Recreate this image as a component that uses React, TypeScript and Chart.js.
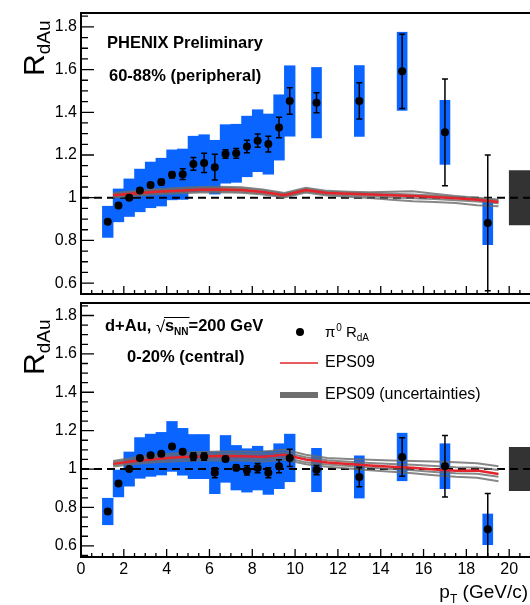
import React, { useEffect, useRef } from 'react';
import { Chart, registerables } from 'chart.js';
Chart.register(...registerables);

// ---------- data ----------
const ptBins = [1.25, 1.75, 2.25, 2.75, 3.25, 3.75, 4.25, 4.75, 5.25, 5.75, 6.25, 6.75, 7.25, 7.75, 8.25, 8.75, 9.25, 9.75, 11, 13, 15, 17, 19];

const periphR = [0.887, 0.964, 1.0, 1.034, 1.06, 1.073, 1.107, 1.11, 1.158, 1.163, 1.143, 1.205, 1.208, 1.24, 1.267, 1.251, 1.329, 1.453, 1.445, 1.453, 1.592, 1.306, 0.882];
const periphStat = [0.01, 0.01, 0.01, 0.01, 0.01, 0.012, 0.015, 0.025, 0.03, 0.045, 0.06, 0.02, 0.023, 0.029, 0.031, 0.037, 0.048, 0.062, 0.047, 0.085, 0.174, 0.25, 0.318];
const periphSys = [0.073, 0.077, 0.088, 0.1, 0.107, 0.112, 0.117, 0.118, 0.13, 0.132, 0.126, 0.137, 0.136, 0.142, 0.145, 0.141, 0.153, 0.165, 0.165, 0.166, 0.183, 0.15, 0.102];

const centralR = [0.779, 0.925, 1.0, 1.058, 1.072, 1.08, 1.118, 1.09, 1.065, 1.065, 0.981, 1.053, 1.007, 0.993, 1.005, 0.981, 1.015, 1.058, 0.995, 0.959, 1.063, 1.015, 0.686];
const centralStat = [0.01, 0.01, 0.01, 0.01, 0.01, 0.01, 0.012, 0.012, 0.02, 0.019, 0.026, 0.012, 0.015, 0.024, 0.024, 0.026, 0.034, 0.045, 0.024, 0.051, 0.1, 0.16, 0.187];
const centralSys = [0.069, 0.07, 0.089, 0.106, 0.11, 0.111, 0.13, 0.122, 0.115, 0.115, 0.109, 0.122, 0.116, 0.113, 0.114, 0.113, 0.117, 0.124, 0.113, 0.11, 0.124, 0.117, 0.08];

const epsPt = [1.5, 2.5, 3.5, 4.5, 5.5, 6.5, 7.5, 8.5, 9.5, 10.5, 11.5, 12.5, 13.5, 14.5, 15.5, 16.5, 17.5, 18.5, 19.5];

const periphEps = [1.011, 1.02, 1.028, 1.033, 1.037, 1.038, 1.036, 1.027, 1.012, 1.036, 1.022, 1.018, 1.015, 1.012, 1.008, 1.003, 0.997, 0.99, 0.98];
const periphEpsUp1 = [1.022, 1.031, 1.04, 1.046, 1.05, 1.051, 1.049, 1.039, 1.022, 1.046, 1.032, 1.028, 1.026, 1.028, 1.03, 1.018, 1.008, 1.0, 0.992];
const periphEpsUp2 = [1.017, 1.026, 1.034, 1.04, 1.044, 1.045, 1.043, 1.033, 1.017, 1.04, 1.027, 1.023, 1.02, 1.018, 1.015, 1.01, 1.002, 0.995, 0.986];
const periphEpsLo2 = [1.006, 1.014, 1.022, 1.027, 1.03, 1.031, 1.029, 1.021, 1.006, 1.03, 1.016, 1.012, 1.007, 1.002, 0.998, 0.994, 0.988, 0.982, 0.974];
const periphEpsLo1 = [1.001, 1.009, 1.016, 1.02, 1.024, 1.025, 1.023, 1.015, 1.001, 1.024, 1.01, 1.005, 0.998, 0.99, 0.983, 0.98, 0.975, 0.965, 0.96];

const centralEps = [1.027, 1.042, 1.053, 1.061, 1.066, 1.068, 1.067, 1.064, 1.075, 1.05, 1.034, 1.026, 1.019, 1.012, 1.007, 0.998, 0.991, 0.993, 0.974];
const centralEpsUp1 = [1.042, 1.06, 1.074, 1.083, 1.089, 1.092, 1.092, 1.09, 1.102, 1.075, 1.058, 1.052, 1.048, 1.044, 1.042, 1.04, 1.036, 1.03, 1.015];
const centralEpsUp2 = [1.035, 1.051, 1.064, 1.072, 1.078, 1.08, 1.079, 1.077, 1.088, 1.062, 1.046, 1.038, 1.032, 1.027, 1.022, 1.016, 1.01, 1.008, 0.995];
const centralEpsLo2 = [1.021, 1.035, 1.045, 1.052, 1.056, 1.057, 1.055, 1.052, 1.062, 1.035, 1.024, 1.016, 1.008, 1.0, 0.994, 0.985, 0.978, 0.976, 0.96];
const centralEpsLo1 = [1.014, 1.026, 1.035, 1.041, 1.045, 1.046, 1.044, 1.04, 1.05, 1.025, 1.012, 1.003, 0.994, 0.986, 0.978, 0.968, 0.96, 0.955, 0.937];

const normPt = [20.75];
const periphNorm = [0.873, 1.127];
const centralNorm = [0.887, 1.113];

const xTickValues = [0, 2, 4, 6, 8, 10, 12, 14, 16, 18, 20];
const xTickLabels = ['0', '2', '4', '6', '8', '10', '12', '14', '16', '18', '20'];
const yTickValues = [0.6, 0.8, 1.0, 1.2, 1.4, 1.6, 1.8];
const yTickLabels = ['0.6', '0.8', '1', '1.2', '1.4', '1.6', '1.8'];

// ---------- styling ----------
const FONT = '"Liberation Sans", Arial, Helvetica, sans-serif';
const BLUE = '#0a64ff';
const RED = '#e3242b';
const GRAY = 'rgba(105,105,105,0.8)';

function drawRLabel(ctx: CanvasRenderingContext2D, xBase: number, yStart: number) {
  ctx.save();
  ctx.translate(xBase, yStart);
  ctx.rotate(-Math.PI / 2);
  ctx.fillStyle = '#000';
  ctx.textBaseline = 'alphabetic';
  ctx.textAlign = 'left';
  ctx.font = `30px ${FONT}`;
  ctx.fillText('R', 0, 0);
  const w = ctx.measureText('R').width;
  ctx.font = `19px ${FONT}`;
  ctx.fillText('dAu', w, 6);
  ctx.restore();
}

const framePlugin = {
  id: 'frameTicks',
  afterDraw(chart: any) {
    const { ctx, chartArea: a, scales } = chart;
    const x = scales.x, y = scales.y;
    ctx.save();
    ctx.strokeStyle = '#000';
    ctx.lineWidth = 1.3;
    ctx.beginPath();
    for (let k = Math.ceil(y.min * 20); k <= Math.floor(y.max * 20); k++) {
      const py = y.getPixelForValue(k / 20);
      const major = k % 4 === 0;
      ctx.moveTo(a.left, py);
      ctx.lineTo(a.left + (major ? 13 : 7), py);
    }
    for (let k = 1; k <= Math.floor(x.max * 2); k++) {
      const px = x.getPixelForValue(k / 2);
      const major = k % 4 === 0;
      ctx.moveTo(px, a.bottom);
      ctx.lineTo(px, a.bottom - (major ? 8 : 4));
    }
    ctx.stroke();
    ctx.lineWidth = 2;
    ctx.strokeRect(a.left, a.top, a.right - a.left, a.bottom - a.top);
    ctx.restore();
  },
};

function errorPlugin(r: number[], stat: number[]) {
  return {
    id: 'statErrors',
    afterDatasetsDraw(chart: any) {
      const { ctx, chartArea: a, scales } = chart;
      ctx.save();
      ctx.strokeStyle = '#000';
      ctx.lineWidth = 1.5;
      ctx.beginPath();
      ptBins.forEach((p, i) => {
        const px = scales.x.getPixelForValue(p);
        const y1 = Math.min(a.bottom, scales.y.getPixelForValue(r[i] - stat[i]));
        const y2 = Math.max(a.top, scales.y.getPixelForValue(r[i] + stat[i]));
        ctx.moveTo(px, y1);
        ctx.lineTo(px, y2);
        ctx.moveTo(px - 3, y1);
        ctx.lineTo(px + 3, y1);
        ctx.moveTo(px - 3, y2);
        ctx.lineTo(px + 3, y2);
      });
      ctx.stroke();
      ctx.restore();
    },
  };
}

const topTextPlugin = {
  id: 'topText',
  afterDraw(chart: any) {
    const ctx = chart.ctx as CanvasRenderingContext2D;
    ctx.save();
    ctx.fillStyle = '#000';
    ctx.textBaseline = 'middle';
    ctx.textAlign = 'left';
    ctx.font = `bold 16.5px ${FONT}`;
    ctx.fillText('PHENIX Preliminary', 107, 43);
    ctx.fillText('60-88% (peripheral)', 109, 76);
    ctx.restore();
    drawRLabel(ctx, 44, 76);
  },
};

const bottomTextPlugin = {
  id: 'bottomText',
  afterDraw(chart: any) {
    const ctx = chart.ctx as CanvasRenderingContext2D;
    ctx.save();
    ctx.fillStyle = '#000';
    ctx.strokeStyle = '#000';
    ctx.textAlign = 'left';
    ctx.textBaseline = 'alphabetic';
    // d+Au, sqrt(s_NN)=200 GeV
    let x = 105;
    const base = 32;
    ctx.font = `bold 16.5px ${FONT}`;
    ctx.fillText('d+Au, ', x, base);
    x += ctx.measureText('d+Au, ').width;
    ctx.font = `16.5px ${FONT}`;
    ctx.fillText('\u221A', x, base + 1);
    x += ctx.measureText('\u221A').width;
    const sx = x;
    ctx.font = `bold 16.5px ${FONT}`;
    ctx.fillText('s', x, base);
    x += ctx.measureText('s').width;
    ctx.font = `bold 10px ${FONT}`;
    ctx.fillText('NN', x, base + 4);
    x += ctx.measureText('NN').width;
    ctx.lineWidth = 1;
    ctx.beginPath();
    ctx.moveTo(sx - 1, base - 13.5);
    ctx.lineTo(x + 1, base - 13.5);
    ctx.stroke();
    ctx.font = `bold 16.5px ${FONT}`;
    ctx.fillText('=200 GeV', x, base);
    // 0-20% (central)
    ctx.textBaseline = 'middle';
    ctx.fillText('0-20% (central)', 127, 58);

    // legend
    ctx.beginPath();
    ctx.arc(300, 33, 4, 0, Math.PI * 2);
    ctx.fill();
    ctx.textBaseline = 'alphabetic';
    let lx = 325;
    const lb = 38;
    ctx.font = `15px ${FONT}`;
    ctx.fillText('\u03C0', lx, lb);
    lx += ctx.measureText('\u03C0').width;
    ctx.font = `10px ${FONT}`;
    ctx.fillText('0', lx + 1, lb - 6);
    lx += ctx.measureText('0').width + 5;
    ctx.font = `15px ${FONT}`;
    ctx.fillText('R', lx, lb);
    lx += ctx.measureText('R').width;
    ctx.font = `10px ${FONT}`;
    ctx.fillText('dA', lx, lb + 4);

    ctx.strokeStyle = RED;
    ctx.lineWidth = 1.5;
    ctx.beginPath();
    ctx.moveTo(280, 64);
    ctx.lineTo(318, 64);
    ctx.stroke();
    ctx.strokeStyle = '#6e6e6e';
    ctx.lineWidth = 6;
    ctx.beginPath();
    ctx.moveTo(280, 96);
    ctx.lineTo(318, 96);
    ctx.stroke();
    ctx.textBaseline = 'middle';
    ctx.font = `16px ${FONT}`;
    ctx.fillText('EPS09', 325, 64);
    ctx.fillText('EPS09 (uncertainties)', 325, 96);

    // axis title p_T (GeV/c)
    ctx.textBaseline = 'alphabetic';
    ctx.font = `19px ${FONT}`;
    const wp = ctx.measureText('p').width;
    const wr = ctx.measureText(' (GeV/c)').width;
    ctx.font = `12px ${FONT}`;
    const wt = ctx.measureText('T').width;
    let tx = 528 - (wp + wt + wr);
    const tb = 299;
    ctx.font = `19px ${FONT}`;
    ctx.fillText('p', tx, tb);
    tx += wp;
    ctx.font = `12px ${FONT}`;
    ctx.fillText('T', tx, tb + 5);
    tx += wt;
    ctx.font = `19px ${FONT}`;
    ctx.fillText(' (GeV/c)', tx, tb);
    ctx.restore();
    drawRLabel(ctx, 44, 76);
  },
};

function buildDatasets(r: number[], sys: number[], eps: number[], up1: number[], up2: number[], lo2: number[], lo1: number[], norm: number[]) {
  const line = (arr: number[]) => epsPt.map((p, i) => ({ x: p, y: arr[i] }));
  const boxes = ptBins.map((p, i) => ({ x: p, y: [r[i] - sys[i], r[i] + sys[i]] }));
  const grayLine = (arr: number[]) => ({
    type: 'line', data: line(arr), borderColor: GRAY, borderWidth: 2, pointRadius: 0, fill: false, order: 2,
  });
  return [
    { type: 'scatter', data: ptBins.map((p, i) => ({ x: p, y: r[i] })), pointRadius: 4, pointBackgroundColor: '#000', pointBorderWidth: 0, order: 0 },
    { type: 'line', data: line(eps), borderColor: RED, borderWidth: 2.5, pointRadius: 0, fill: false, order: 1 },
    grayLine(up1), grayLine(up2), grayLine(lo2), grayLine(lo1),
    { type: 'line', data: [{ x: 0, y: 1 }, { x: 22, y: 1 }], borderColor: '#000', borderWidth: 2, borderDash: [8, 5], pointRadius: 0, fill: false, order: 3 },
    { type: 'bar', data: boxes.filter((b) => b.x < 10), backgroundColor: BLUE, barThickness: 10.7, grouped: false, borderWidth: 0, order: 4 },
    { type: 'bar', data: boxes.filter((b) => b.x > 10), backgroundColor: BLUE, barThickness: 10, grouped: false, borderWidth: 0, order: 4 },
    { type: 'bar', data: normPt.map((p) => ({ x: p, y: norm })), backgroundColor: '#333333', barThickness: 32, grouped: false, borderWidth: 0, order: 4 },
  ];
}

function yScale(min: number, max: number) {
  return {
    type: 'linear',
    min,
    max,
    afterFit: (s: any) => { s.width = 81; s.paddingTop = 0; s.paddingBottom = 0; },
    afterBuildTicks: (s: any) => { s.ticks = yTickValues.map((v) => ({ value: v })); },
    grid: { display: false, drawTicks: false },
    border: { display: false },
    ticks: {
      padding: 4,
      color: '#000',
      font: { family: FONT, size: 16 },
      callback: (_v: any, i: number) => yTickLabels[i],
    },
  };
}

export default function App() {
  const topRef = useRef<HTMLCanvasElement>(null);
  const botRef = useRef<HTMLCanvasElement>(null);

  useEffect(() => {
    const top = new Chart(topRef.current as HTMLCanvasElement, {
      type: 'scatter',
      data: { datasets: buildDatasets(periphR, periphSys, periphEps, periphEpsUp1, periphEpsUp2, periphEpsLo2, periphEpsLo1, periphNorm) as any },
      options: {
        responsive: false,
        animation: false,
        devicePixelRatio: 1,
        layout: { padding: { top: 13, bottom: 2, right: 8, left: 0 } },
        plugins: { legend: { display: false }, tooltip: { enabled: false } },
        scales: {
          x: { type: 'linear', min: 0, max: 22, display: false, offset: false, grid: { offset: false } },
          y: yScale(0.549, 1.865) as any,
        },
      },
      plugins: [errorPlugin(periphR, periphStat), framePlugin, topTextPlugin],
    });
    const bot = new Chart(botRef.current as HTMLCanvasElement, {
      type: 'scatter',
      data: { datasets: buildDatasets(centralR, centralSys, centralEps, centralEpsUp1, centralEpsUp2, centralEpsLo2, centralEpsLo1, centralNorm) as any },
      options: {
        responsive: false,
        animation: false,
        devicePixelRatio: 1,
        layout: { padding: { top: 1, bottom: 0, right: 8, left: 0 } },
        plugins: { legend: { display: false }, tooltip: { enabled: false } },
        scales: {
          x: {
            type: 'linear', min: 0, max: 22, offset: false,
            afterFit: (s: any) => { s.height = 48; s.paddingLeft = 0; s.paddingRight = 0; },
            afterBuildTicks: (s: any) => { s.ticks = xTickValues.map((v) => ({ value: v })); },
            grid: { display: false, drawTicks: false, offset: false },
            border: { display: false },
            ticks: {
              padding: 3, color: '#000', maxRotation: 0, autoSkip: false,
              font: { family: FONT, size: 16 },
              callback: (_v: any, i: number) => xTickLabels[i],
            },
          } as any,
          y: yScale(0.542, 1.865) as any,
        },
      },
      plugins: [errorPlugin(centralR, centralStat), framePlugin, bottomTextPlugin],
    });
    return () => { top.destroy(); bot.destroy(); };
  }, []);

  return (
    <div style={{ position: 'fixed', left: 0, top: 0, width: 530, height: 605, overflow: 'hidden', background: '#fff' }}>
      <canvas ref={topRef} width={560} height={298} style={{ position: 'absolute', left: 0, top: 0, width: 560, height: 298 }} />
      <canvas ref={botRef} width={560} height={306} style={{ position: 'absolute', left: 0, top: 299, width: 560, height: 306 }} />
    </div>
  );
}
